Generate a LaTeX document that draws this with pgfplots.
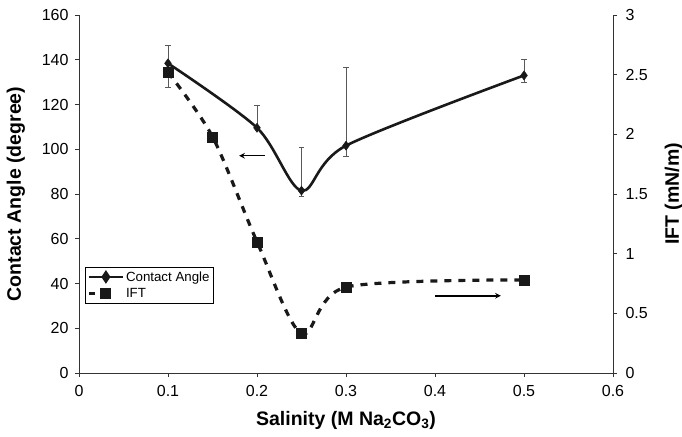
\documentclass[border=0pt]{standalone}
\usepackage{pgfplots}
\pgfplotsset{compat=1.18}
\usepackage{fontspec}
\setmainfont{Liberation Sans}
\begin{document}
\begin{tikzpicture}
\pgfplotsset{
  every axis/.append style={font=\fontsize{16}{18}\selectfont},
  /pgf/number format/assume math mode=true,
}
\begin{axis}[
  scale only axis, width=534pt, height=358pt,
  xmin=0, xmax=0.6, ymin=0, ymax=160,
  axis x line*=bottom, axis y line*=left,
  xtick={0,0.1,0.2,0.3,0.4,0.5,0.6},
  xticklabels={0,0.1,0.2,0.3,0.4,0.5,0.6},
  ytick={0,20,40,60,80,100,120,140,160},
  tick align=outside, major tick length=4pt,
  axis line style={black!80, line width=0.9pt},
  tick style={black!80, line width=0.9pt},
  xticklabel style={yshift=-5pt},
  yticklabel style={xshift=-3pt},
  xlabel={\bfseries\fontsize{19.5}{22}\selectfont Salinity (M Na\textsubscript{2}CO\textsubscript{3})},
  ylabel={\bfseries\fontsize{19.5}{22}\selectfont Contact Angle (degree)},
  xlabel shift=8pt,
  ylabel shift=10pt,
  legend style={at={(axis cs:0.0067,47.4)}, anchor=north west,
    font=\fontsize{13.3}{15}\selectfont, draw=black, line width=0.9pt,
    inner sep=2pt, row sep=2pt},
  legend cell align=left,
]
\addplot[black!90, line width=2.6pt, smooth, tension=0.5, mark=diamond*, mark size=4.5pt,
  mark options={solid, line width=0.5pt},
  legend image code/.code={
    \draw[black!90, line width=2.2pt] (0pt,0pt) -- (34pt,0pt);
    \fill[black!90] (17pt,-4.5pt) -- (20pt,0pt) -- (17pt,4.5pt) -- (14pt,0pt) -- cycle;
  },
  error bars/.cd, y dir=both, y explicit,
  error bar style={black!65, line width=0.8pt},
  error mark options={black!65, line width=0.8pt, mark size=2.6pt, rotate=90}]
coordinates {
 (0.1,138.4) += (0,8.2) -= (0,10.7)
 (0.2,109.6) += (0,9.9) -= (0,0)
 (0.25,81.5) += (0,19.2) -= (0,2.7)
 (0.3,101.6) += (0,35.0) -= (0,4.9)
 (0.5,133.0) += (0,7.0) -= (0,3.0)
};
\addlegendentry{Contact Angle}
\addlegendimage{legend image code/.code={
  \draw[black!90, line width=3pt] (0pt,0pt) -- (6pt,0pt);
  \fill[black!90] (12pt,-5pt) rectangle (22pt,5pt);
  \path (34pt,0pt);
}}
\addlegendentry{IFT}
\draw[-stealth, line width=1.5pt] (axis cs:0.209,97.1) -- (axis cs:0.180,97.1);
\draw[-stealth, line width=1.5pt] (axis cs:0.400,34.5) -- (axis cs:0.474,34.5);
\end{axis}
\begin{axis}[
  scale only axis, width=534pt, height=358pt,
  xmin=0, xmax=0.6, ymin=0, ymax=3,
  axis y line*=right, axis x line=none,
  ytick={0,0.5,1,1.5,2,2.5,3},
  yticklabels={0,0.5,1,1.5,2,2.5,3},
  tick align=outside, major tick length=4pt,
  axis line style={black!80, line width=0.9pt},
  tick style={black!80, line width=0.9pt},
  yticklabel style={xshift=5pt},
  ylabel={\bfseries\fontsize{19.5}{22}\selectfont IFT (mN/m)},
  ylabel shift=10pt,
]
\addplot[black!90, line width=3.2pt, smooth, tension=0.5, dash pattern=on 7pt off 7pt,
  mark=square*, mark size=5pt, mark options={solid, line width=0.3pt}]
coordinates {
 (0.1,2.52) (0.15,1.98) (0.2,1.10) (0.25,0.33) (0.3,0.72) (0.5,0.78)
};
\end{axis}
\pgfresetboundingbox
\path ([shift={(-79pt,-63pt)}]current axis.south west) rectangle ([shift={(69pt,15pt)}]current axis.north east);
\end{tikzpicture}
\end{document}
